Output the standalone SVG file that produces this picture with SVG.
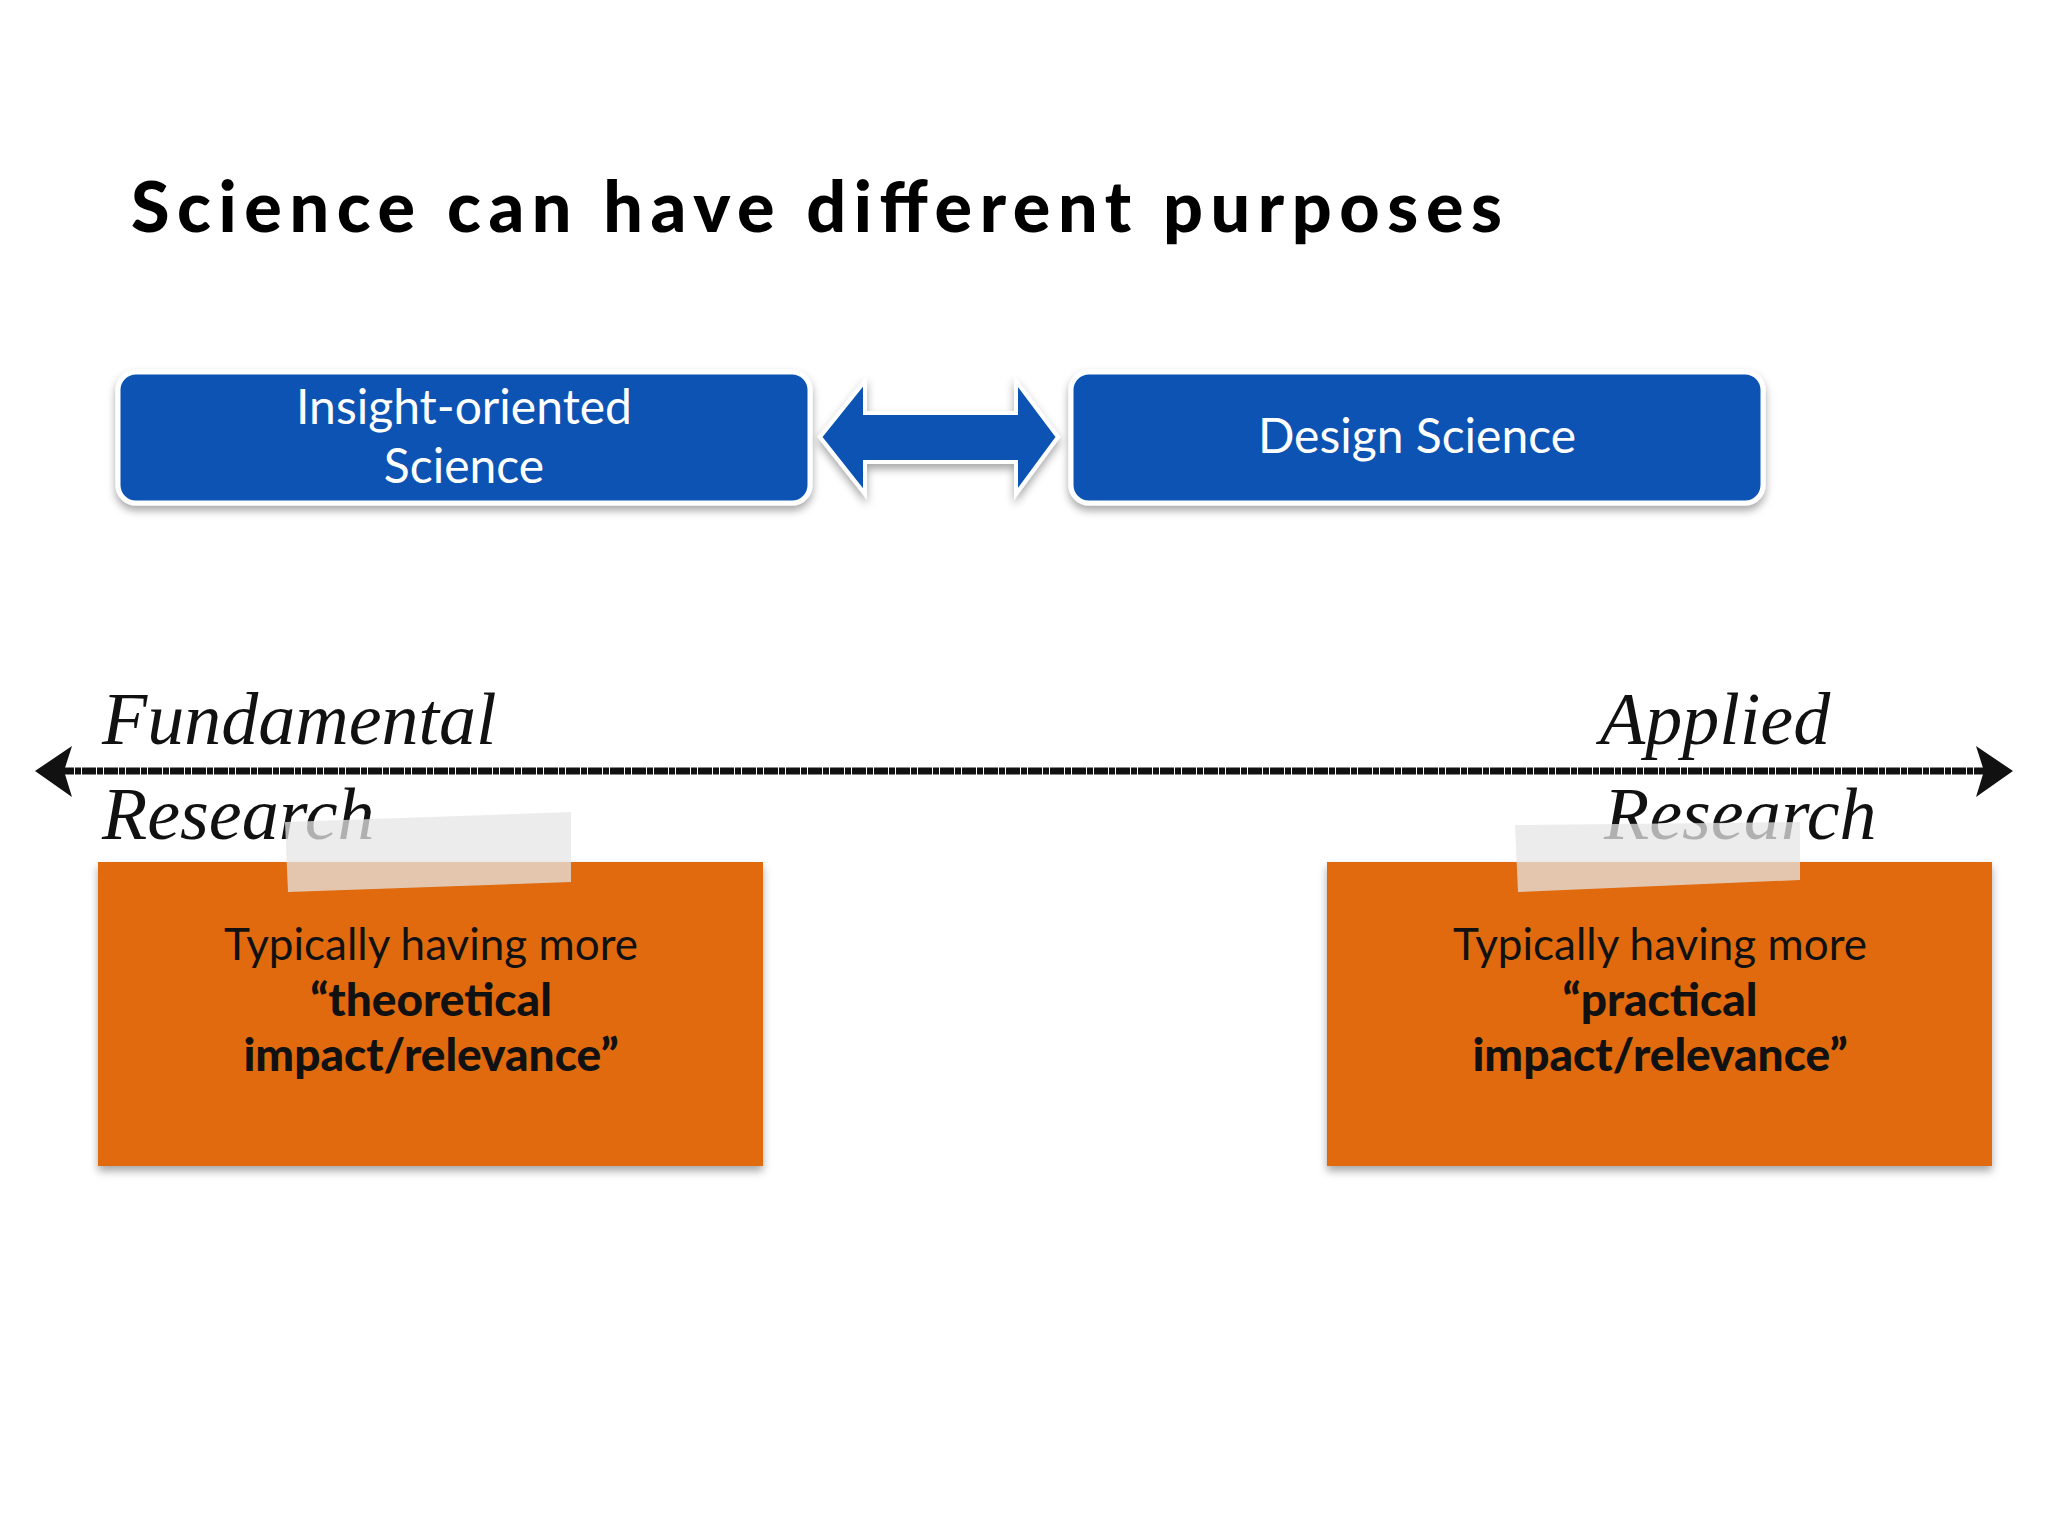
<svg xmlns="http://www.w3.org/2000/svg" width="2048" height="1536" viewBox="0 0 2048 1536">
<defs>
<style>
.blue{fill:#0753B4;stroke:#fff;stroke-width:5}
.bt{font-family:Lato,"Open Sans",sans-serif;font-size:48px;fill:#fff;text-anchor:middle}
.hand{font-family:"Liberation Serif",serif;font-style:italic;font-size:74px;fill:#111}
.note{fill:#E06A10}
.nt{font-family:Lato,"Open Sans",sans-serif;font-size:44px;fill:#111;text-anchor:middle}
.nb{font-family:Lato,"Open Sans",sans-serif;font-weight:900;font-size:46px;fill:#111;text-anchor:middle}
.tape{fill:#e6e6e6;opacity:0.75}
</style>
<filter id="sh" x="-5%" y="-5%" width="110%" height="120%"><feDropShadow dx="0" dy="5" stdDeviation="4" flood-color="#000" flood-opacity="0.35"/></filter>
</defs>
<rect width="2048" height="1536" fill="#fff"/>
<text x="131" y="232" font-family="Lato,'Open Sans',sans-serif" font-weight="900" font-size="70" textLength="1371" fill="#000">Science can have different purposes</text>
<g id="insight"><rect class="blue" x="118" y="372" width="692" height="131" rx="18" filter="url(#sh)"/>
<text class="bt" x="464" y="424">Insight-oriented</text><text class="bt" x="464" y="483">Science</text></g>
<g id="design"><rect class="blue" x="1071" y="372" width="692" height="131" rx="18" filter="url(#sh)"/>
<text class="bt" x="1417" y="453">Design Science</text></g>
<g id="connectors">
<path d="M820 437 L865 381 L865 413 L1016 413 L1016 381 L1058 437 L1016 494 L1016 462 L865 462 L865 494 Z" fill="#0753B4" stroke="#fff" stroke-width="4" filter="url(#sh)"/>
<line x1="60" y1="771" x2="1990" y2="771" stroke="#111" stroke-width="7" stroke-dasharray="14 1 6 1"/>
<path d="M35 771 L72 746 L64 771 L72 797 Z" fill="#111"/>
<path d="M2013 771 L1976 746 L1984 771 L1976 797 Z" fill="#111"/>
</g>
<text class="hand" x="102" y="744">Fundamental</text>
<text class="hand" x="1600" y="744">Applied</text>
<g id="note1"><rect class="note" x="98" y="862" width="665" height="304" filter="url(#sh)"/>
<text class="hand" x="102" y="839">Research</text>
<polygon class="tape" points="285,822 571,812 571,882 288,892"/>
<text class="nt" x="431" y="960">Typically having more</text>
<text class="nb" x="431" y="1016">“theoretical</text>
<text class="nb" x="431" y="1071">impact/relevance”</text></g>
<g id="note2"><rect class="note" x="1327" y="862" width="665" height="304" filter="url(#sh)"/>
<text class="hand" x="1604" y="839">Research</text>
<polygon class="tape" points="1515,825 1800,822 1800,880 1518,892"/>
<text class="nt" x="1660" y="960">Typically having more</text>
<text class="nb" x="1660" y="1016">“practical</text>
<text class="nb" x="1660" y="1071">impact/relevance”</text></g>
</svg>
